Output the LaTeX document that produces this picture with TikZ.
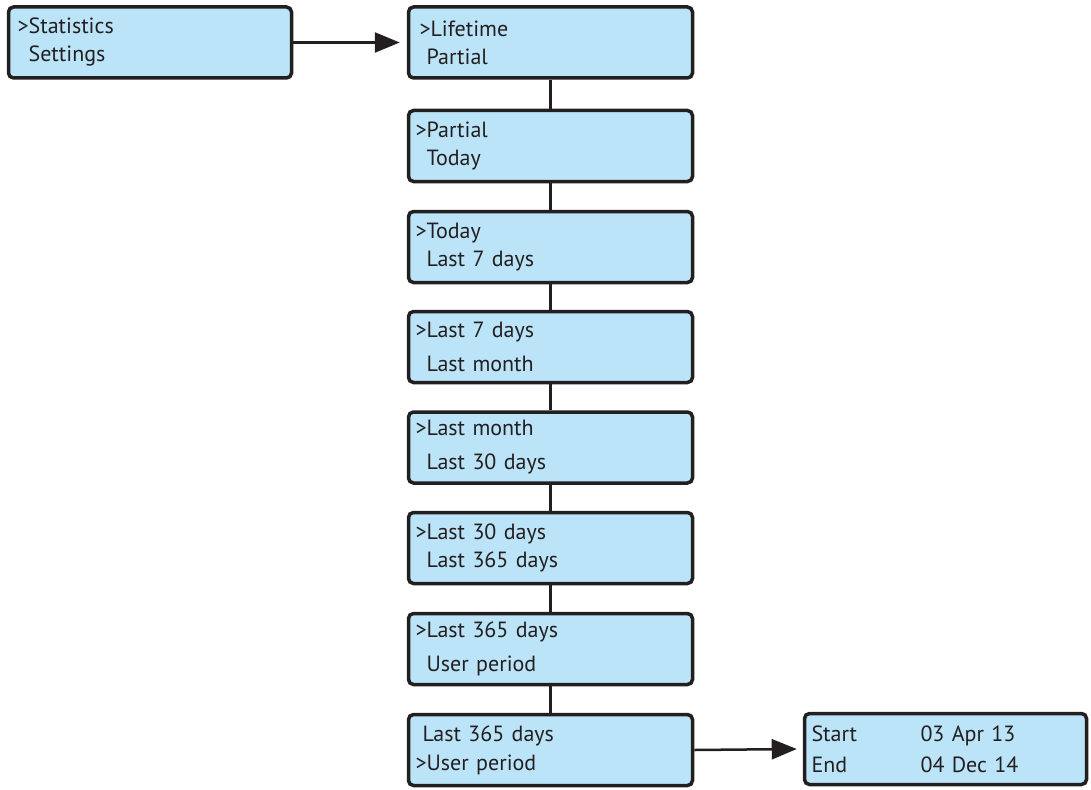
\documentclass[tikz,border=0pt]{standalone}
\usepackage{fontspec}
\setmainfont{PT Sans}
\usepackage{xcolor}
\usetikzlibrary{positioning,arrows.meta}
\definecolor{lcdblue}{RGB}{187,228,248}
\definecolor{ink}{RGB}{35,31,32}
\begin{document}
\begin{tikzpicture}[
  x=1pt, y=-1pt,
  font=\fontsize{22}{28}\selectfont,
  scr/.style={draw=ink, line width=3.5pt, rounded corners=5pt, fill=lcdblue, inner xsep=7pt, inner ysep=0pt,
    minimum width=284pt, minimum height=71pt, text width=270pt, align=left, text=ink},
  lnk/.style={draw=ink, line width=2.5pt},
  ar/.style={lnk, -{Triangle[length=25pt, width=20pt]}}]
\useasboundingbox (0,0) rectangle (1091,789);
% ---- main menu
\node[scr, minimum width=283pt, text width=269pt] (main) at (150,42.5) {\hspace*{2pt}>Statistics\\\hspace*{2pt}\phantom{>}Settings};
% ---- statistics menu column (x=550.5)
\node[scr] (life) at (550.5,42.5) {\hspace*{4pt}>Lifetime\\\phantom{>}Partial};
\node[scr] (part) at (550.5,146) {>Partial\\\phantom{>}Today};
\node[scr] (today) at (550.5,247) {>Today\\\phantom{>}Last 7 days};
\node[scr] (week) at (550.5,347) {>Last 7 days\\[6pt]\phantom{>}Last month};
\node[scr] (month) at (550.5,447.5) {>Last month\\[6pt]\phantom{>}Last 30 days};
\node[scr] (thirty) at (550.5,548) {>Last 30 days\\\phantom{>}Last 365 days};
\node[scr] (year) at (550.5,649) {>Last 365 days\\[6pt]\phantom{>}User period};
\node[scr] (user) at (550.5,750) {\hspace*{7pt}Last 365 days\\[1pt]>User period};
% ---- user period
\node[scr, minimum width=282pt, text width=268pt] (period) at (945.5,749) {\makebox[109pt][l]{Start}03\,\,Apr\,\,13\\[3pt]\makebox[109pt][l]{End}04\,\,Dec\,\,14};
% links
\draw[ar] (main.east) -- ([xshift=-7pt]life.west);
\draw[lnk] (life) -- (part);
\draw[lnk] (part) -- (today);
\draw[lnk] (today) -- (week);
\draw[lnk] (week) -- (month);
\draw[lnk] (month) -- (thirty);
\draw[lnk] (thirty) -- (year);
\draw[lnk] (year) -- (user);
\draw[ar] (user.east) -- ([xshift=-6pt]period.west);
\end{tikzpicture}
\end{document}
